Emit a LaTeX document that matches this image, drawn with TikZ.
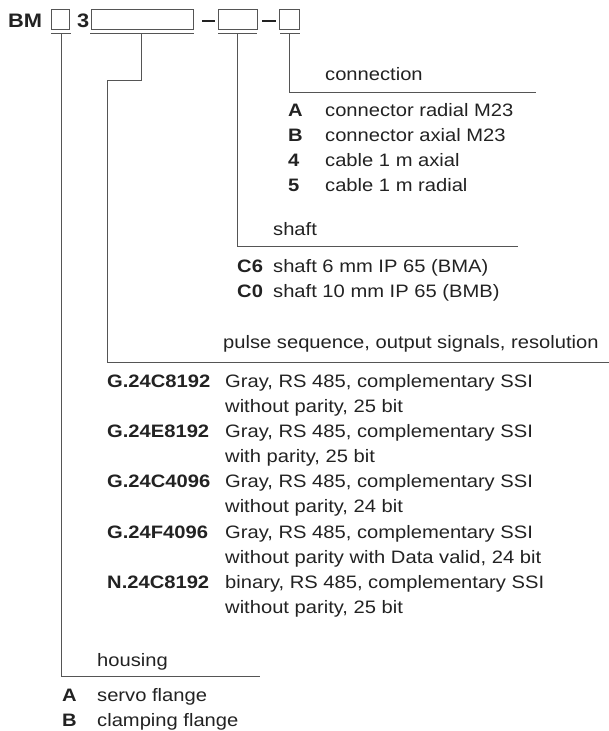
\documentclass[tikz,border=0pt]{standalone}
\usepackage{fontspec}
\setmainfont{Liberation Sans}[FakeStretch=1.12]
\definecolor{ink}{HTML}{222222}
\definecolor{rule}{HTML}{555555}
\begin{document}
\begin{tikzpicture}[x=1pt,y=-1pt,
  txt/.style={anchor=base west, inner sep=0pt, text=ink, font=\fontsize{18}{22}\selectfont},
  code/.style={txt, font=\fontsize{18}{22}\selectfont\bfseries},
  slot/.style={draw=rule, line width=0.7pt, inner sep=0pt, anchor=north west},
  conn/.style={draw=rule, line width=0.8pt},
  dashbar/.style={draw=ink, line width=1.8pt}]
\useasboundingbox (0,0) rectangle (609,731);
% header
\node[code, font=\fontsize{19.5}{22}\selectfont\bfseries] (bm) at (8,27) {BM};
\node[slot, minimum width=18pt, minimum height=20pt] (b1) at (51,9) {};
\node[code, font=\fontsize{19.5}{22}\selectfont\bfseries] (three) at (77,27) {3};
\node[slot, minimum width=102pt, minimum height=20pt] (b2) at (91,9) {};
\node[slot, minimum width=39pt, minimum height=20pt] (b3) at (218,9) {};
\node[slot, minimum width=20pt, minimum height=20pt] (b4) at (279,9) {};
\coordinate (d1a) at (202,21); \coordinate (d1b) at (215,21);
\coordinate (d2a) at (262,21); \coordinate (d2b) at (276,21);
\draw[dashbar] (d1a) -- (d1b);
\draw[dashbar] (d2a) -- (d2b);
% underlines
\coordinate (u1a) at (51,33); \coordinate (u1b) at (71,33);
\coordinate (u2a) at (90,33); \coordinate (u2b) at (194,33);
\coordinate (u3a) at (218,33); \coordinate (u3b) at (257,33);
\coordinate (u4a) at (280,33); \coordinate (u4b) at (300,33);
\draw[conn] (u1a) -- (u1b);
\draw[conn] (u2a) -- (u2b);
\draw[conn] (u3a) -- (u3b);
\draw[conn] (u4a) -- (u4b);
% connector ends
\coordinate (t1) at (61,33); \coordinate (h1a) at (61,676); \coordinate (h1b) at (260,676);
\coordinate (t2) at (141,33); \coordinate (k2a) at (141,80); \coordinate (k2b) at (107,80);
\coordinate (h2a) at (107,362); \coordinate (h2b) at (609,362);
\coordinate (t3) at (237,33); \coordinate (h3a) at (237,246); \coordinate (h3b) at (518,246);
\coordinate (t4) at (289,33); \coordinate (h4a) at (289,92); \coordinate (h4b) at (536,92);
\draw[conn] (t1) -- (h1a) -- (h1b);
\draw[conn] (t2) -- (k2a) -- (k2b) -- (h2a) -- (h2b);
\draw[conn] (t3) -- (h3a) -- (h3b);
\draw[conn] (t4) -- (h4a) -- (h4b);
% connection
\node[txt] (connh) at (325,80) {connection};
\node[code] (cA) at (288,116) {A};  \node[txt] (cAd) at (325,116) {connector radial M23};
\node[code] (cB) at (288,141) {B};  \node[txt] (cBd) at (325,141) {connector axial M23};
\node[code] (c4) at (288,166) {4};  \node[txt] (c4d) at (325,166) {cable 1 m axial};
\node[code] (c5) at (288,191) {5};  \node[txt] (c5d) at (325,191) {cable 1 m radial};
% shaft
\node[txt] (shafth) at (273,235) {shaft};
\node[code] (s6) at (237,272) {C6}; \node[txt] (s6d) at (273,272) {shaft 6 mm IP 65 (BMA)};
\node[code] (s0) at (237,297) {C0}; \node[txt] (s0d) at (273,297) {shaft 10 mm IP 65 (BMB)};
% pulse sequence
\node[txt] (pulseh) at (223,348) {pulse sequence, output signals, resolution};
\node[code] (p1) at (107,387) {G.24C8192}; \node[txt] (p1a) at (225,387) {Gray, RS 485, complementary SSI};
\node[txt] (p1b) at (225,412) {without parity, 25 bit};
\node[code] (p2) at (107,437) {G.24E8192}; \node[txt] (p2a) at (225,437) {Gray, RS 485, complementary SSI};
\node[txt] (p2b) at (225,462) {with parity, 25 bit};
\node[code] (p3) at (107,487) {G.24C4096}; \node[txt] (p3a) at (225,487) {Gray, RS 485, complementary SSI};
\node[txt] (p3b) at (225,512) {without parity, 24 bit};
\node[code] (p4) at (107,538) {G.24F4096}; \node[txt] (p4a) at (225,538) {Gray, RS 485, complementary SSI};
\node[txt] (p4b) at (225,563) {without parity with Data valid, 24 bit};
\node[code] (p5) at (107,588) {N.24C8192}; \node[txt] (p5a) at (225,588) {binary, RS 485, complementary SSI};
\node[txt] (p5b) at (225,613) {without parity, 25 bit};
% housing
\node[txt] (househ) at (97,666) {housing};
\node[code] (hA) at (62,701) {A}; \node[txt] (hAd) at (97,701) {servo flange};
\node[code] (hB) at (62,726) {B}; \node[txt] (hBd) at (97,726) {clamping flange};
\end{tikzpicture}
\end{document}
